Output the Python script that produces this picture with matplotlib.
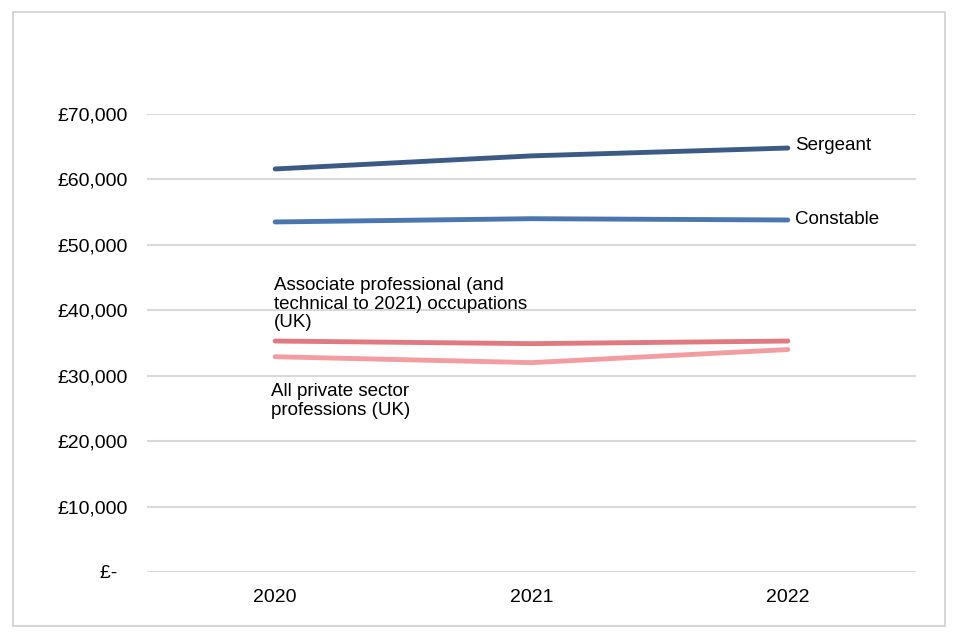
import matplotlib.pyplot as plt
from matplotlib.patches import Rectangle
from matplotlib.ticker import FuncFormatter

plt.rcParams['font.family'] = ['Liberation Sans', 'DejaVu Sans']

years = ["2020", "2021", "2022"]
sergeant = [61600, 63600, 64800]
constable = [53500, 54000, 53800]
associate = [35300, 34900, 35300]
private = [32900, 32000, 34000]

fig = plt.figure(figsize=(9.6, 6.4), dpi=100)
# outer frame
fig.patches.append(Rectangle((13 / 960, 14 / 640), 932 / 960, 614 / 640,
                             transform=fig.transFigure, fill=False,
                             edgecolor="#d0d0d0", linewidth=1.2))
ax = fig.add_axes([147 / 960, 68 / 640, 769 / 960, 458 / 640])

x = range(len(years))
ax.plot(x, sergeant, color="#3b5b86", linewidth=3.5, solid_capstyle="round")
ax.plot(x, constable, color="#4a76b0", linewidth=3.5, solid_capstyle="round")
ax.plot(x, associate, color="#e07a80", linewidth=3.5, solid_capstyle="round")
ax.plot(x, private, color="#f39da1", linewidth=3.5, solid_capstyle="round")

ax.set_xlim(-0.5, 2.5)
ax.set_ylim(0, 70000)
ax.set_yticks(range(0, 70001, 10000))
# accounting style: zero shown as "£-", set a little further left
ax.yaxis.set_major_formatter(FuncFormatter(lambda v, p: "£-  " if v == 0 else f"£{v:,.0f}"))
ax.set_xticks(list(x))
ax.set_xticklabels(years)
ax.grid(axis="y", color="#d9d9d9", linewidth=1.5)
ax.set_axisbelow(True)
for s in ax.spines.values():
    s.set_visible(False)
ax.tick_params(length=0, labelsize=14)
ax.tick_params(axis="x", pad=12)
ax.tick_params(axis="y", pad=14)

ax.annotate("Sergeant", (2, sergeant[2]), xytext=(5, 2), textcoords="offset points",
            va="center", fontsize=13.5, annotation_clip=False)
ax.annotate("Constable", (2, constable[2]), xytext=(5, 0), textcoords="offset points",
            va="center", fontsize=13.5, annotation_clip=False)
ax.text(-0.005, 40960, "Associate professional (and\ntechnical to 2021) occupations\n(UK)",
        va="center", ha="left", fontsize=13.5, linespacing=1.15)
ax.text(-0.015, 26200, "All private sector\nprofessions (UK)",
        va="center", ha="left", fontsize=13.5, linespacing=1.15)

fig.savefig("out.png", dpi=100)
